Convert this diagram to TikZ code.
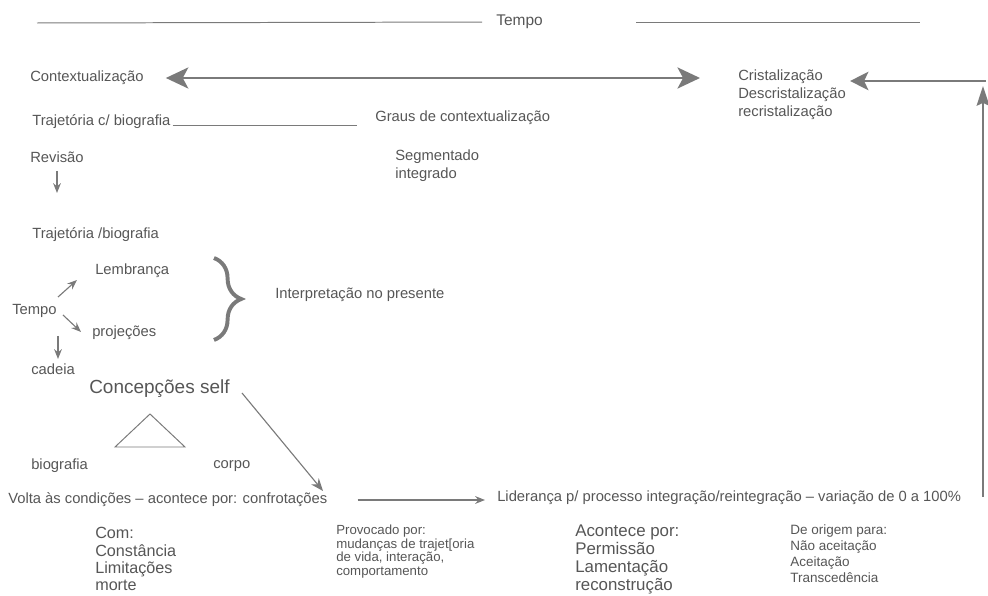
\documentclass[tikz,border=0pt]{standalone}
\usepackage{fontspec}
\setmainfont{Liberation Sans}
\usetikzlibrary{arrows.meta,positioning,decorations.pathreplacing}
\definecolor{ink}{HTML}{565656}
\definecolor{ink2}{HTML}{7A7A7A}

\begin{document}
\begin{tikzpicture}[
  x=0.025cm,y=-0.025cm,
  lbl/.style={font=\fontsize{10.5}{12.5}\selectfont,text=ink,anchor=west,inner sep=0pt},
  blk/.style={lbl,anchor=north west,align=left},
  rule/.style={ink2,line width=0.7pt},
  arr/.style={-{Stealth[length=7pt,width=5.5pt]},ink2,line width=0.8pt},
  bigarr/.style={-{Stealth[length=13pt,width=13pt,inset=3pt]},ink2,line width=1.8pt},
  dblarr/.style={{Stealth[length=16pt,width=15pt,inset=4pt]}-{Stealth[length=16pt,width=15pt,inset=4pt]},ink2,line width=1.8pt},
  bracket/.style={decorate,decoration={brace,amplitude=0.68cm},ink2,line width=2.8pt}
]
  \useasboundingbox (0,0) rectangle (988,596);

  % time line at the top
  \node[lbl,font=\fontsize{11}{13}\selectfont] (tempo) at (496,22) {Tempo};
  \coordinate (tl0) at (37,23);
  \coordinate (tr0) at (636,22);
  \coordinate (tr1) at (920,22);
  \draw[rule] (tl0) -- (tempo.west) [shorten >=0.35cm];
  \draw[rule] (tr0) -- (tr1);

  % upper block
  \node[lbl] (ctx) at (30,78) {Contextualização};
  \node[blk] (crist) at (738,70) {Cristalização\\Descristalização\\recristalização};
  \draw[dblarr,shorten <=0.55cm,shorten >=0.95cm] (ctx.east) -- (ctx.east -| crist.west);

  \node[lbl] (trajc) at (32,122) {Trajetória c/ biografia};
  \node[lbl] (graus) at (375,118) {Graus de contextualização};
  \draw[rule,shorten <=0.05cm,shorten >=0.45cm] (trajc.base east) -- (trajc.base east -| graus.west);

  \node[lbl] (rev) at (30,157) {Revisão};
  \node[blk] (segm) at (395,150) {Segmentado\\integrado};
  \coordinate (rv0) at (57,171);
  \coordinate (rv1) at (57,193);
  \draw[arr] (rv0) -- (rv1);

  % trajectory / time
  \node[lbl] (trajb) at (32,235) {Trajetória /biografia};
  \node[lbl] (lemb) at (95,271) {Lembrança};
  \node[lbl] (tempob) at (12,311) {Tempo};
  \node[lbl] (proj) at (92,333) {projeções};
  \node[lbl] (cad) at (31,369) {cadeia};
  \coordinate (t0) at (58,297);
  \coordinate (t1) at (77,280);
  \coordinate (t2) at (63,315);
  \coordinate (t3) at (81,332);
  \coordinate (t4) at (58,336);
  \coordinate (t5) at (58,359);
  \draw[arr] (t0) -- (t1);
  \draw[arr] (t2) -- (t3);
  \draw[arr] (t4) -- (t5);

  \coordinate (br0) at (214,258);
  \coordinate (br1) at (214,340);
  \draw[bracket] (br0) -- (br1);
  \node[lbl] (interp) at (275,295) {Interpretação no presente};

  % self
  \node[lbl,font=\fontsize{13.5}{15}\selectfont] (conc) at (89,389) {Concepções self};
  \draw[rule] (115,447) -- (185,447) -- (150,414) -- cycle;
  \node[lbl] (bio) at (31,466) {biografia};
  \node[lbl] (corpo) at (213,466) {corpo};
  \coordinate (dg0) at (242,393);
  \coordinate (dg1) at (323,491);
  \draw[arr,-{Stealth[length=9pt,width=7pt]}] (dg0) -- (dg1);

  % bottom row
  \node[lbl] (volta) at (8,500) {Volta às condições – acontece por: confrotações};
  \node[lbl] (lid) at (497,498) {Liderança p/ processo integração/reintegração – variação de 0 a 100\%};
  \draw[arr,shorten <=0.75cm,shorten >=0.3cm] (volta.east) -- (volta.east -| lid.west);

  \coordinate (up0) at (983,497);
  \coordinate (up1) at (983,86);
  \coordinate (cr0) at (986,81);
  \draw[bigarr,-{Stealth[length=14pt,width=9pt,inset=2pt]}] (up0) -- (up1);
  \draw[bigarr,shorten >=0.1cm] (cr0) -- (cr0 -| crist.east);

  \node[blk,font=\fontsize{11.5}{12.4}\selectfont] (com) at (95,527) {Com:\\Constância\\Limitações\\morte};
  \node[blk,font=\fontsize{9.4}{9.6}\selectfont] (prov) at (336,525) {Provocado por:\\mudanças de trajet[oria\\de vida, interação,\\comportamento};
  \node[blk,font=\fontsize{12}{12.8}\selectfont] (acont) at (575,525) {Acontece por:\\Permissão\\Lamentação\\reconstrução};
  \node[blk,font=\fontsize{9.6}{11.4}\selectfont] (orig) at (790,524) {De origem para:\\Não aceitação\\Aceitação\\Transcedência};
\end{tikzpicture}
\end{document}
